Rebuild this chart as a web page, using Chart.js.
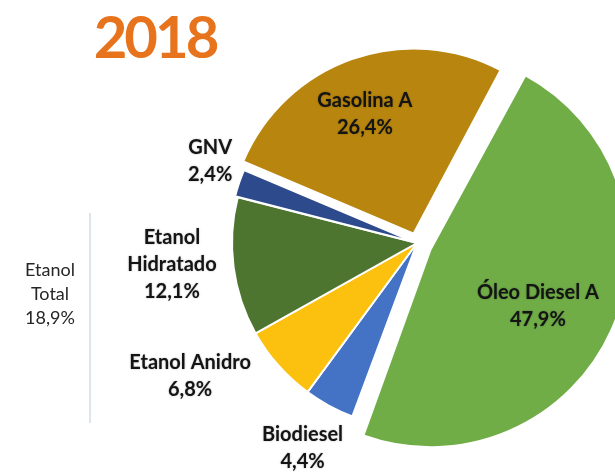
<!DOCTYPE html>
<html>
<head>
<meta charset="utf-8">
<script src="https://cdn.jsdelivr.net/npm/chart.js@4/dist/chart.umd.min.js"></script>
<style>
  html, body { margin: 0; padding: 0; background: #ffffff; overflow: hidden; }
  #wrap { position: relative; width: 615px; height: 472px; }
  #chart { position: absolute; left: 0; top: 0; }
  #title { position: absolute; left: 70px; top: -2px; width: 170px; text-align: center;
           font-family: Lato, sans-serif; font-weight: 700; font-size: 58px; letter-spacing: -3px;
           color: #e7731d; line-height: 76px; }
  #total { position: absolute; left: 0px; top: 257px; width: 100px; text-align: center;
           font-family: Lato, sans-serif; font-size: 18px; line-height: 24px; color: #262626; }
  #bracket { position: absolute; left: 89px; top: 213px; width: 2px; height: 210px; background: #dfe5ec; }
</style>
</head>
<body>
<div id="wrap">
  <canvas id="chart" width="615" height="472"></canvas>
  <div id="title"></div>
  <div id="bracket"></div>
  <div id="total"></div>
</div>
<script>
// ---- data ----
const year = '2018';
const categories = ['Óleo Diesel A', 'Biodiesel', 'Etanol Anidro', 'Etanol Hidratado', 'GNV', 'Gasolina A'];
const shares = [47.9, 4.4, 6.8, 12.1, 2.4, 26.4];
const ethanolGroup = ['Etanol Anidro', 'Etanol Hidratado'];
const ethanolGroupLabel = ['Etanol', 'Total'];

// ---- styles ----
const colors = ['#70ad47', '#4472c4', '#fcc00e', '#4e7530', '#2d4b8c', '#b8860f'];
// Chart.js v4 draws an arc's offset at one quarter of its value
const offsets = [60, 0, 0, 0, 6, 40];
const nameLines = {'Etanol Hidratado': ['Etanol', 'Hidratado']};
// label placement: [radius factor, angle shift in degrees]
const labelPlace = [[0.737, 3.3], [1.27, 0.8], [1.423, 11], [1.33, 2.4], [1.203, 3], [0.754, -2.4]];

const fmt = v => v.toFixed(1).replace('.', ',') + '%';

document.getElementById('title').textContent = year;
const ethTotal = ethanolGroup.reduce((s, n) => s + shares[categories.indexOf(n)], 0);
document.getElementById('total').innerHTML =
  ethanolGroupLabel.map(t => '<div>' + t + '</div>').join('') + '<div>' + fmt(ethTotal) + '</div>';

const labelPlugin = {
  id: 'sliceLabels',
  afterDatasetsDraw(chart) {
    const meta = chart.getDatasetMeta(0);
    const ctx = chart.ctx;
    ctx.save();
    ctx.font = '700 20px Lato, sans-serif';
    ctx.fillStyle = '#141414';
    ctx.textAlign = 'center';
    ctx.textBaseline = 'middle';
    ctx.shadowColor = 'rgba(0,0,0,0.3)';
    ctx.shadowBlur = 2;
    const lh = 27;
    meta.data.forEach((arc, i) => {
      const p = arc.getProps(['x', 'y', 'startAngle', 'endAngle', 'outerRadius'], true);
      const [f, shift] = labelPlace[i];
      const mid = (p.startAngle + p.endAngle) / 2 + shift * Math.PI / 180;
      const cx = p.x + Math.cos(mid) * p.outerRadius * f;
      const cy = p.y + Math.sin(mid) * p.outerRadius * f;
      const lines = (nameLines[categories[i]] || [categories[i]]).concat([fmt(shares[i])]);
      const y0 = cy - (lines.length - 1) * lh / 2;
      lines.forEach((t, k) => ctx.fillText(t, cx, y0 + k * lh));
    });
    ctx.restore();
  }
};

new Chart(document.getElementById('chart'), {
  type: 'pie',
  data: {
    labels: categories,
    datasets: [{
      data: shares,
      backgroundColor: colors,
      borderColor: '#ffffff',
      borderWidth: 2,
      offset: offsets,
      hoverOffset: 0,
      clip: false
    }]
  },
  options: {
    responsive: false,
    animation: false,
    devicePixelRatio: 1,
    rotation: 28,
    radius: 185,
    layout: { padding: { left: 232, right: 13, top: 58, bottom: 44 } },
    plugins: { legend: { display: false }, tooltip: { enabled: false }, title: { display: false } },
    events: []
  },
  plugins: [labelPlugin]
});
</script>
</body>
</html>
